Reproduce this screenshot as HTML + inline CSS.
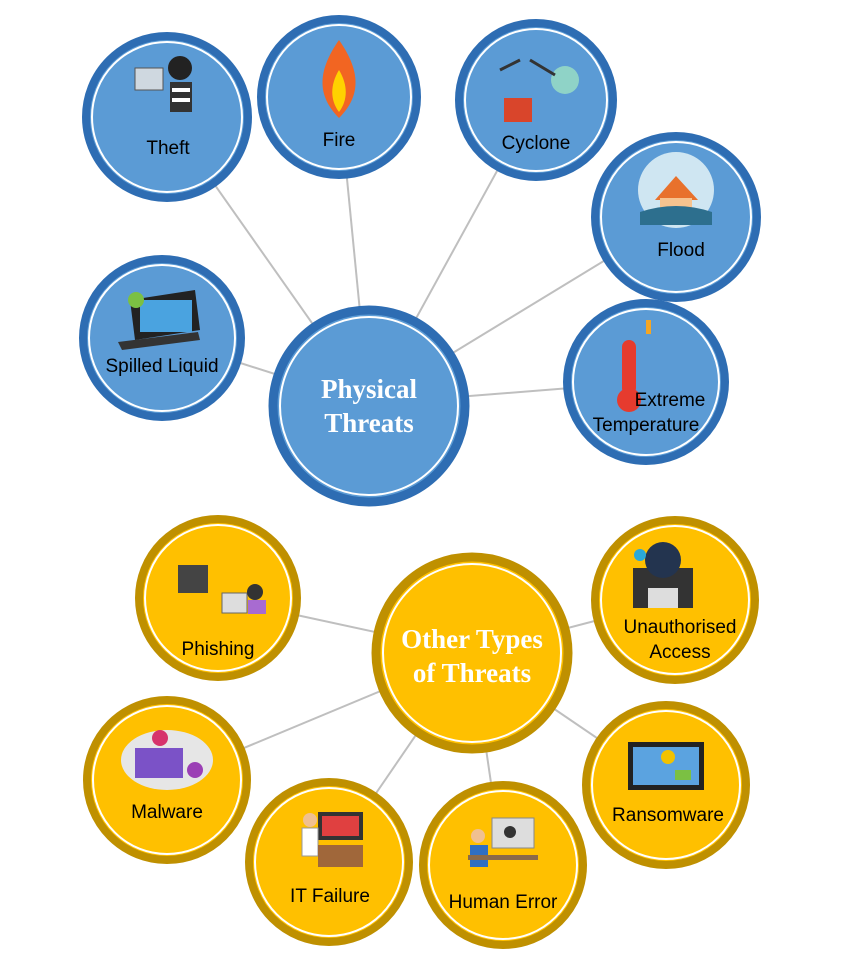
<!DOCTYPE html>
<html><head><meta charset="utf-8"><style>
html,body{margin:0;padding:0;background:#fff;}
svg{display:block;}
.l{font-family:"Liberation Sans",sans-serif;font-size:19px;fill:#000;text-anchor:middle;}
.t{font-family:"Liberation Serif",serif;font-size:27px;font-weight:bold;fill:#fff;text-anchor:middle;}
</style></head><body>
<svg width="851" height="957" viewBox="0 0 851 957" xmlns="http://www.w3.org/2000/svg">
<g stroke="#bfbfbf" stroke-width="2">
<line x1="369" y1="404" x2="167" y2="117"/><line x1="369" y1="404" x2="339" y2="97"/>
<line x1="369" y1="404" x2="536" y2="100"/><line x1="369" y1="404" x2="676" y2="217"/>
<line x1="369" y1="404" x2="162" y2="338"/><line x1="369" y1="404" x2="646" y2="382"/>
<line x1="472" y1="653" x2="218" y2="598"/><line x1="472" y1="653" x2="675" y2="600"/>
<line x1="472" y1="653" x2="167" y2="780"/><line x1="472" y1="653" x2="666" y2="785"/>
<line x1="472" y1="653" x2="329" y2="862"/><line x1="472" y1="653" x2="503" y2="865"/>
</g>
<g id="blue">
<g><circle cx="167" cy="117" r="81" fill="#5b9bd5" stroke="#2e6db3" stroke-width="8"/><circle cx="167" cy="117" r="75" fill="none" stroke="#fff" stroke-width="2"/></g>
<g><circle cx="339" cy="97" r="78" fill="#5b9bd5" stroke="#2e6db3" stroke-width="8"/><circle cx="339" cy="97" r="72" fill="none" stroke="#fff" stroke-width="2"/></g>
<g><circle cx="536" cy="100" r="77" fill="#5b9bd5" stroke="#2e6db3" stroke-width="8"/><circle cx="536" cy="100" r="71" fill="none" stroke="#fff" stroke-width="2"/></g>
<g><circle cx="676" cy="217" r="81" fill="#5b9bd5" stroke="#2e6db3" stroke-width="8"/><circle cx="676" cy="217" r="75" fill="none" stroke="#fff" stroke-width="2"/></g>
<g><circle cx="162" cy="338" r="79" fill="#5b9bd5" stroke="#2e6db3" stroke-width="8"/><circle cx="162" cy="338" r="73" fill="none" stroke="#fff" stroke-width="2"/></g>
<g><circle cx="646" cy="382" r="79" fill="#5b9bd5" stroke="#2e6db3" stroke-width="8"/><circle cx="646" cy="382" r="73" fill="none" stroke="#fff" stroke-width="2"/></g>
<g><circle cx="369" cy="406" r="96" fill="#5b9bd5" stroke="#2e6db3" stroke-width="9"/><circle cx="369" cy="406" r="89" fill="none" stroke="#fff" stroke-width="2"/></g>
</g>
<g>
<g><circle cx="472" cy="653" r="96" fill="#ffc000" stroke="#bf9000" stroke-width="9"/><circle cx="472" cy="653" r="89" fill="none" stroke="#fff" stroke-width="2"/></g>
<g><circle cx="218" cy="598" r="79" fill="#ffc000" stroke="#bf9000" stroke-width="8"/><circle cx="218" cy="598" r="73" fill="none" stroke="#fff" stroke-width="2"/></g>
<g><circle cx="675" cy="600" r="80" fill="#ffc000" stroke="#bf9000" stroke-width="8"/><circle cx="675" cy="600" r="74" fill="none" stroke="#fff" stroke-width="2"/></g>
<g><circle cx="167" cy="780" r="80" fill="#ffc000" stroke="#bf9000" stroke-width="8"/><circle cx="167" cy="780" r="74" fill="none" stroke="#fff" stroke-width="2"/></g>
<g><circle cx="666" cy="785" r="80" fill="#ffc000" stroke="#bf9000" stroke-width="8"/><circle cx="666" cy="785" r="74" fill="none" stroke="#fff" stroke-width="2"/></g>
<g><circle cx="329" cy="862" r="80" fill="#ffc000" stroke="#bf9000" stroke-width="8"/><circle cx="329" cy="862" r="74" fill="none" stroke="#fff" stroke-width="2"/></g>
<g><circle cx="503" cy="865" r="80" fill="#ffc000" stroke="#bf9000" stroke-width="8"/><circle cx="503" cy="865" r="74" fill="none" stroke="#fff" stroke-width="2"/></g>
</g>
<!-- icons (simplified) -->
<g>
<rect x="135" y="68" width="28" height="22" fill="#cfd8e0" stroke="#555"/><circle cx="180" cy="68" r="12" fill="#222"/><rect x="170" y="82" width="22" height="30" fill="#333"/><rect x="172" y="88" width="18" height="4" fill="#fff"/><rect x="172" y="98" width="18" height="4" fill="#fff"/>
<path d="M339 40 C318 70 316 95 339 118 C362 95 360 70 339 40Z" fill="#f26522"/><path d="M339 70 C330 85 330 100 339 112 C348 100 348 85 339 70Z" fill="#ffd200"/>
<rect x="504" y="98" width="28" height="24" fill="#d9452b"/><circle cx="565" cy="80" r="14" fill="#8fd3c7"/><path d="M500 70 L520 60 M530 60 L555 75" stroke="#333" stroke-width="3"/>
<circle cx="676" cy="190" r="38" fill="#cfe6f2"/><path d="M655 200 L676 176 L698 200Z" fill="#e8712c"/><rect x="660" y="198" width="32" height="16" fill="#f6c38f"/><path d="M640 212 Q676 200 712 212 L712 225 L640 225Z" fill="#2d6f8e"/>
<path d="M130 300 L195 290 L200 330 L135 340Z" fill="#222"/><rect x="140" y="300" width="52" height="32" fill="#4aa3e0"/><path d="M118 342 L198 332 L200 340 L122 350Z" fill="#333"/><circle cx="136" cy="300" r="8" fill="#7bc043"/>
<rect x="622" y="340" width="14" height="55" rx="7" fill="#e63b2e"/><circle cx="629" cy="400" r="12" fill="#e63b2e"/><rect x="646" y="320" width="5" height="14" fill="#f5a623"/>
</g>
<g>
<rect x="178" y="565" width="30" height="28" fill="#444"/><rect x="222" y="593" width="25" height="20" fill="#ddd" stroke="#666"/><circle cx="255" cy="592" r="8" fill="#333"/><rect x="248" y="600" width="18" height="14" fill="#a86bd1"/>
<rect x="633" y="568" width="60" height="40" fill="#333"/><circle cx="663" cy="560" r="18" fill="#23344f"/><rect x="648" y="588" width="30" height="20" fill="#ddd"/><circle cx="640" cy="555" r="6" fill="#2aa9d8"/>
<ellipse cx="167" cy="760" rx="46" ry="30" fill="#e6e6e6"/><rect x="135" y="748" width="48" height="30" fill="#7b52c7"/><circle cx="160" cy="738" r="8" fill="#d6336c"/><circle cx="195" cy="770" r="8" fill="#9b3fb5"/>
<rect x="628" y="742" width="76" height="48" fill="#222"/><rect x="633" y="747" width="66" height="38" fill="#5ba3e0"/><circle cx="668" cy="757" r="7" fill="#f2c200"/><rect x="675" y="770" width="16" height="10" fill="#7bc043"/>
<rect x="318" y="812" width="45" height="28" fill="#333"/><rect x="322" y="816" width="37" height="20" fill="#e04040"/><circle cx="310" cy="820" r="7" fill="#f0c090"/><rect x="302" y="828" width="16" height="28" fill="#fff" stroke="#999"/><rect x="318" y="845" width="45" height="22" fill="#a0673a"/>
<rect x="492" y="818" width="42" height="30" fill="#ddd" stroke="#888"/><circle cx="510" cy="832" r="6" fill="#333"/><circle cx="478" cy="836" r="7" fill="#f0c090"/><rect x="470" y="845" width="18" height="22" fill="#2f6fc2"/><rect x="468" y="855" width="70" height="5" fill="#8a6a4a"/>
</g>
<text class="l" x="168" y="154">Theft</text>
<text class="l" x="339" y="146">Fire</text>
<text class="l" x="536" y="149">Cyclone</text>
<text class="l" x="681" y="256">Flood</text>
<text class="l" x="162" y="372">Spilled Liquid</text>
<text class="l" x="670" y="406">Extreme</text>
<text class="l" x="646" y="431">Temperature</text>
<text class="t" x="369" y="398">Physical</text>
<text class="t" x="369" y="432">Threats</text>
<text class="t" x="472" y="648">Other Types</text>
<text class="t" x="472" y="682">of Threats</text>
<text class="l" x="218" y="655">Phishing</text>
<text class="l" x="680" y="633">Unauthorised</text>
<text class="l" x="680" y="658">Access</text>
<text class="l" x="167" y="818">Malware</text>
<text class="l" x="668" y="821">Ransomware</text>
<text class="l" x="330" y="902">IT Failure</text>
<text class="l" x="503" y="908">Human Error</text>
</svg>
</body></html>
